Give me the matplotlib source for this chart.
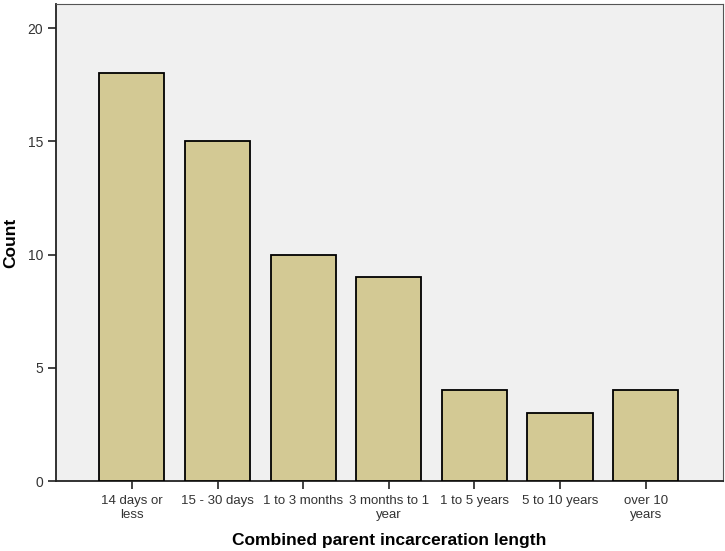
import matplotlib.pyplot as plt

# Data
categories = ["14 days or\nless", "15 - 30 days", "1 to 3 months", "3 months to 1\nyear",
              "1 to 5 years", "5 to 10 years", "over 10\nyears"]
counts = [18, 15, 10, 9, 4, 3, 4]

fig = plt.figure(figsize=(7.25, 5.51), dpi=100)
ax = fig.add_axes([0.0768, 0.127, 0.92, 0.865])
ax.set_facecolor("#f0f0f0")

x = range(len(categories))
ax.bar(x, counts, width=0.76, color="#d3c994", edgecolor="black", linewidth=1.3, zorder=3)

ax.set_xlim(-0.89, 6.9)
ax.set_ylim(0, 21.05)
ax.set_yticks([0, 5, 10, 15, 20])
ax.set_xticks(list(x))
ax.set_xticklabels(categories, fontsize=9.5, family="Liberation Sans", color="#333333",
                   linespacing=1.2)
for lab in ax.get_yticklabels():
    lab.set_fontsize(10)
    lab.set_family("Liberation Sans")
    lab.set_color("#333333")

ax.tick_params(axis="both", direction="out", length=6, width=1.2, color="#222222")
ax.tick_params(axis="x", pad=4)
ax.tick_params(axis="y", pad=3)

for s in ["left", "bottom"]:
    ax.spines[s].set_color("#222222")
    ax.spines[s].set_linewidth(1.3)
for s in ["top", "right"]:
    ax.spines[s].set_color("#555555")
    ax.spines[s].set_linewidth(0.8)

ax.set_xlabel("Combined parent incarceration length", fontsize=12.5, fontweight="bold",
              family="Liberation Sans", labelpad=9)
ax.set_ylabel("Count", fontsize=12.5, fontweight="bold", family="Liberation Sans", labelpad=7)

fig.savefig("out.png", dpi=100)
